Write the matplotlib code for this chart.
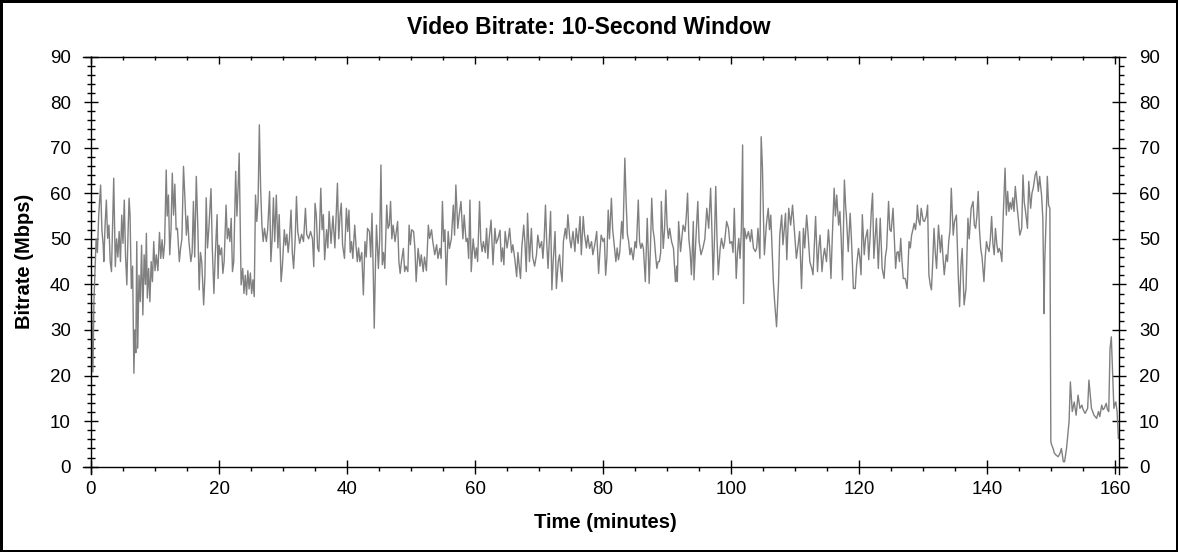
import matplotlib
matplotlib.use('Agg')
import matplotlib.pyplot as plt
from matplotlib.ticker import MultipleLocator

# Lecturas del grafico: tiempo (min) y bitrate (Mbps), por bloques de ~20 min
minutes = [
    # 0 - 20
    0.0, 0.15, 0.3, 0.45, 0.6, 0.8, 1.0, 1.2, 1.5, 1.7,
    1.9, 2.0, 2.2, 2.4, 2.6, 2.8, 3.0, 3.2, 3.4, 3.55,
    3.8, 4.0, 4.2, 4.4, 4.6, 4.8, 5.0, 5.2, 5.4, 5.6,
    5.8, 5.95, 6.1, 6.3, 6.5, 6.7, 6.85, 7.0, 7.15, 7.3,
    7.5, 7.7, 7.9, 8.1, 8.3, 8.5, 8.65, 8.8, 9.0, 9.2,
    9.4, 9.6, 9.8, 10.0, 10.2, 10.45, 10.7, 10.9, 11.1, 11.3,
    11.5, 11.75, 11.9, 12.1, 12.3, 12.5, 12.7, 12.9, 13.1, 13.3,
    13.5, 13.8, 14.0, 14.2, 14.45, 14.7, 14.9, 15.1, 15.3, 15.6,
    15.8, 16.0, 16.2, 16.45, 16.7, 16.9, 17.1, 17.3, 17.6, 17.8,
    18.0, 18.2, 18.4, 18.75, 18.95, 19.2, 19.4, 19.7, 19.85,
    # 20 - 40
    20.0, 20.2, 20.4, 20.6, 20.8, 21.1, 21.3, 21.5, 21.7, 21.9,
    22.1, 22.3, 22.6, 22.8, 23.0, 23.15, 23.3, 23.45, 23.7, 23.9,
    24.1, 24.3, 24.5, 24.7, 24.9, 25.1, 25.3, 25.5, 25.7, 25.9,
    26.1, 26.3, 26.5, 26.7, 26.9, 27.1, 27.4, 27.6, 27.9, 28.1,
    28.3, 28.5, 28.7, 28.95, 29.2, 29.4, 29.7, 29.9, 30.2, 30.4,
    30.6, 30.8, 31.0, 31.25, 31.45, 31.65, 31.9, 32.1, 32.3, 32.6,
    32.9, 33.2, 33.5, 33.7, 34.0, 34.3, 34.6, 34.8, 35.0, 35.2,
    35.4, 35.6, 35.9, 36.1, 36.3, 36.5, 36.8, 37.0, 37.2, 37.5,
    37.8, 38.1, 38.5, 38.7, 38.9, 39.1, 39.3, 39.6, 39.9, 40.1,
    # 40 - 60
    40.3, 40.5, 40.7, 40.9, 41.2, 41.4, 41.6, 41.8, 42.0, 42.3,
    42.55, 42.8, 43.0, 43.2, 43.5, 43.7, 43.9, 44.1, 44.25, 44.45,
    44.6, 44.9, 45.1, 45.3, 45.5, 45.7, 45.9, 46.2, 46.4, 46.6,
    46.8, 47.0, 47.2, 47.5, 47.9, 48.1, 48.3, 48.5, 48.8, 49.0,
    49.2, 49.5, 49.7, 49.9, 50.1, 50.4, 50.6, 50.8, 51.1, 51.4,
    51.6, 51.9, 52.1, 52.4, 52.7, 52.9, 53.2, 53.4, 53.7, 54.0,
    54.2, 54.5, 54.7, 54.9, 55.1, 55.3, 55.5, 55.8, 56.0, 56.3,
    56.6, 56.8, 57.0, 57.3, 57.5, 57.8, 58.1, 58.3, 58.6, 58.8,
    59.0, 59.2, 59.4, 59.7, 60.0, 60.2, 60.4,
    # 60 - 81
    60.7, 60.9, 61.1, 61.3, 61.6, 61.8, 62.0, 62.2, 62.5, 62.8,
    63.1, 63.3, 63.6, 63.9, 64.1, 64.3, 64.5, 64.7, 65.0, 65.2,
    65.4, 65.7, 65.9, 66.2, 66.5, 66.7, 66.9, 67.1, 67.3, 67.6,
    67.8, 68.0, 68.2, 68.5, 68.8, 69.0, 69.3, 69.6, 69.8, 70.1,
    70.4, 70.6, 70.8, 71.0, 71.2, 71.4, 71.6, 71.8, 72.0, 72.2,
    72.5, 72.7, 73.0, 73.2, 73.4, 73.6, 73.8, 74.1, 74.3, 74.5,
    74.8, 75.0, 75.3, 75.6, 75.8, 76.1, 76.4, 76.6, 76.9, 77.1,
    77.4, 77.6, 77.9, 78.2, 78.4, 78.7, 79.0, 79.3, 79.5, 79.7,
    80.0, 80.2, 80.4, 80.6, 80.8,
    # 81 - 101
    81.0, 81.3, 81.5, 81.8, 82.0, 82.2, 82.4, 82.6, 82.9, 83.1,
    83.4, 83.6, 83.8, 84.0, 84.2, 84.4, 84.7, 85.0, 85.2, 85.5,
    85.7, 85.9, 86.1, 86.3, 86.6, 86.9, 87.2, 87.4, 87.6, 87.8,
    88.0, 88.2, 88.4, 88.6, 88.8, 89.0, 89.1, 89.4, 89.6, 89.8,
    90.0, 90.2, 90.4, 90.7, 91.0, 91.3, 91.5, 91.6, 91.8, 92.1,
    92.3, 92.5, 92.8, 93.0, 93.2, 93.4, 93.6, 93.8, 94.0, 94.1,
    94.2, 94.5, 94.8, 95.0, 95.3, 95.6, 95.9, 96.2, 96.5, 96.8,
    97.0, 97.2, 97.4, 97.6, 97.8, 98.0, 98.3, 98.5, 98.8, 99.0,
    99.3, 99.6, 99.8, 100.1, 100.3, 100.5, 100.8,
    # 101 - 122
    101.0, 101.2, 101.4, 101.6, 101.8, 101.95, 102.1, 102.4, 102.7, 103.0,
    103.2, 103.5, 103.8, 104.0, 104.2, 104.5, 104.7, 104.9, 105.05, 105.2,
    105.5, 105.8, 106.0, 106.2, 106.4, 106.6, 106.8, 107.1, 107.4, 107.6,
    107.9, 108.1, 108.3, 108.5, 108.7, 109.0, 109.3, 109.6, 109.9, 110.2,
    110.5, 110.7, 111.0, 111.3, 111.5, 111.8, 112.0, 112.3, 112.6, 112.8,
    113.2, 113.5, 113.7, 113.9, 114.2, 114.4, 114.6, 114.9, 115.2, 115.4,
    115.6, 115.8, 116.1, 116.3, 116.5, 116.8, 117.0, 117.2, 117.4, 117.7,
    117.9, 118.0, 118.3, 118.6, 118.8, 119.1, 119.4, 119.6, 119.9, 120.1,
    120.3, 120.5, 120.8, 121.0, 121.3, 121.5, 121.7,
    # 122 - 142
    121.9, 122.1, 122.3, 122.5, 122.7, 123.0, 123.3, 123.6, 123.9, 124.1,
    124.3, 124.6, 124.8, 125.0, 125.3, 125.5, 125.7, 125.9, 126.1, 126.3,
    126.5, 126.7, 126.9, 127.2, 127.5, 127.8, 128.0, 128.2, 128.4, 128.6,
    128.8, 129.0, 129.1, 129.3, 129.5, 129.7, 130.0, 130.2, 130.5, 130.7,
    130.9, 131.1, 131.3, 131.5, 131.7, 131.9, 132.1, 132.4, 132.7, 132.9,
    133.1, 133.3, 133.6, 133.8, 134.0, 134.2, 134.4, 134.7, 134.9, 135.2,
    135.5, 135.7, 135.9, 136.1, 136.4, 136.7, 137.0, 137.2, 137.5, 137.8,
    138.0, 138.2, 138.4, 138.6, 138.8, 139.0, 139.2, 139.5, 139.7, 139.9,
    140.1, 140.3, 140.5, 140.7, 140.9, 141.1, 141.3, 141.5, 141.7, 141.9,
    # 142 - fin
    142.1, 142.3, 142.5, 142.8, 143.0, 143.2, 143.4, 143.6, 143.8, 144.0,
    144.2, 144.4, 144.7, 144.9, 145.1, 145.4, 145.6, 145.8, 146.0, 146.3,
    146.5, 146.8, 147.0, 147.2, 147.5, 147.7, 148.0, 148.2, 148.5, 148.7,
    148.9, 149.0, 149.3, 149.4, 149.6, 149.8, 149.95, 150.1, 150.3, 150.5,
    150.8, 151.1, 151.4, 151.6, 151.9, 152.1, 152.4, 152.8, 153.0, 153.3,
    153.6, 153.9, 154.2, 154.5, 154.8, 155.0, 155.3, 155.7, 155.9, 156.1,
    156.3, 156.7, 157.1, 157.4, 157.6, 157.9, 158.1, 158.3, 158.6, 158.8,
    159.0, 159.2, 159.4, 159.6, 159.8, 160.0, 160.1, 160.3, 160.5,
]

mbps = [
    # 0 - 20
    40, 30, 20.8, 36, 42, 50, 47, 55, 61.8, 52,
    48.7, 45, 53, 58.5, 50.1, 53, 45, 42.8, 55, 63.3,
    43.9, 50, 46, 51.6, 45, 55.2, 49, 58.5, 46, 39.9,
    52, 58.9, 55.2, 39.1, 44, 20.5, 30, 25, 49.4, 26,
    42, 36.2, 48.6, 33.3, 46.5, 40, 51.2, 37, 43.5, 36.2,
    45, 40.6, 49.4, 43, 46.5, 43, 51.4, 45.7, 49.8, 45.7,
    49, 65.1, 55, 59.6, 46.5, 52, 64.4, 55.2, 62, 52,
    52.3, 45, 48, 50, 65.9, 58, 50.8, 55, 49.4, 45,
    47, 58.2, 46, 63.7, 52, 38.8, 47, 45, 35.5, 42,
    59, 48, 52, 61, 48, 38, 46, 55.3, 41.3,
    # 20 - 40
    48.6, 46.5, 48, 42.4, 45, 57.4, 50, 52.3, 49.4, 54.5,
    42.8, 45, 64.8, 55, 62, 68.8, 55, 39.9, 43.5, 38,
    42, 37.7, 43, 39, 42.5, 38, 41, 37.3, 59.6, 53.8,
    58, 75.0, 61, 53, 49.4, 52.3, 49.4, 52, 60.4, 45,
    50, 59, 49.4, 59.6, 48, 55.3, 40.6, 44, 52, 48.6,
    51, 47, 50, 56.3, 47, 43.5, 50, 59.3, 51.6, 49,
    51, 49.4, 56.7, 51, 50, 51.6, 50, 43.9, 57.8, 55.2,
    48, 47.2, 61.1, 52, 55.3, 45.4, 52, 48, 56, 49,
    55, 48, 62.2, 50, 55, 57.8, 48.7, 45.7, 56.7, 51.6,
    # 40 - 60
    56.3, 47, 49.4, 45.7, 53, 48.6, 45, 48, 45, 47,
    37.7, 49.4, 46, 52.3, 51.6, 46, 55.6, 42, 30.4, 45,
    53, 43.5, 50, 66.2, 44.3, 47, 43.5, 57.4, 52.3, 53,
    58.2, 50, 53, 49.4, 53.8, 45, 42.4, 45, 47.9, 42.8,
    44, 42.8, 53, 48.7, 52, 51.6, 48, 40.6, 47.9, 44,
    46.5, 42.8, 46, 43, 53, 50.1, 52, 49.4, 46.5, 48.7,
    45.7, 47.9, 45.7, 58.2, 49.4, 52, 39.9, 51.6, 47.9, 50,
    57.4, 50.8, 61.8, 52.3, 55, 58.2, 50, 55.2, 49.4, 50.1,
    45.7, 58.5, 42.8, 50, 45.7, 48, 45,
    # 60 - 81
    58.2, 49.4, 47.2, 49.4, 47, 52.3, 45.7, 50, 54.1, 44.3,
    52.3, 49, 50.1, 51.9, 45, 48, 44.3, 51.6, 48, 50,
    52.3, 47, 48.7, 45.7, 41.7, 47, 44, 41.3, 48, 53,
    49, 42.8, 55.6, 45, 52.3, 46, 44, 46.5, 50.8, 48,
    49.4, 45.7, 50, 57.4, 49, 43.5, 50, 56, 38.8, 45,
    51.6, 39.1, 45, 46.5, 43, 40.6, 49.4, 52.3, 50, 55.3,
    50, 48, 51.6, 47.2, 52.3, 49, 54.9, 46.5, 54.9, 51,
    48, 50.8, 47.9, 49.4, 46.5, 48.7, 51.6, 42.4, 47, 50.8,
    49.4, 50.1, 42, 46, 56.3,
    # 81 - 101
    50, 58.9, 52, 47.9, 45, 48, 45.4, 47, 53.8, 50,
    67.7, 58.2, 51, 49.4, 46.5, 48, 45.4, 49.4, 48, 58.5,
    49.4, 47.9, 49, 47.9, 40.6, 54.5, 40.2, 48, 58.9, 52,
    50.1, 46.5, 43.5, 45, 45, 47, 58.2, 47.9, 52, 60.7,
    53, 50.1, 52.3, 49.4, 47.9, 40.6, 44, 40.6, 53.8, 47.2,
    50, 53, 51.6, 55, 60, 50, 47.2, 42.1, 50, 53.8,
    41, 50, 58.2, 49.4, 46.5, 48, 50, 56.7, 52.3, 61.1,
    52, 41, 50, 61.5, 50, 42.1, 48, 50.1, 47.9, 49.4,
    53.8, 52.3, 49, 49.4, 47, 56.7, 41.3,
    # 101 - 122
    47, 50.1, 45.7, 52, 70.6, 35.8, 52.3, 50, 51.6, 49.4,
    52, 47.9, 47.2, 48, 52.3, 45.7, 72.4, 65.5, 55, 46.5,
    53, 56.7, 52, 55.2, 48, 40.6, 36.2, 30.7, 39.9, 50.8,
    55.2, 48.7, 52, 55.6, 45.4, 56.7, 53, 57.4, 51.6, 45.7,
    49, 51.6, 39.1, 52.3, 48, 55.2, 51.6, 45, 43.5, 42.1,
    54.9, 42.8, 48, 50.8, 42.8, 46, 47.9, 45, 52, 48,
    41.3, 50, 61.1, 55, 59.6, 53, 56, 50, 41, 62.9,
    57, 55.2, 47.2, 55.6, 50, 39.1, 39.1, 44, 47.9, 46,
    42.1, 55.3, 46.5, 50, 52, 45.4, 50,
    # 122 - 142
    56, 60, 45.7, 50, 54.5, 43.5, 54.5, 43.5, 41.3, 46,
    47.9, 58.2, 52, 51.6, 56.7, 50, 43.5, 47, 47.2, 45,
    50.1, 45, 41.3, 41.3, 39.1, 49.4, 48, 50.8, 52, 53.4,
    52, 54.5, 57.4, 54, 53, 56.7, 54, 53.8, 55, 57.4,
    42.1, 40, 38.8, 45, 52.3, 47, 43.5, 53, 47, 50.8,
    46, 42.1, 46.5, 45, 49.4, 52, 61.1, 50.8, 53.8, 55.2,
    41.3, 35.1, 44, 47.9, 35.5, 39.1, 54.5, 50, 56.7, 58.2,
    53, 52.3, 55, 60.4, 52, 47.9, 46, 40.6, 46, 49.4,
    48, 47.2, 50, 54.9, 49, 46.5, 52.3, 49, 47, 47.9,
    # 142 - fin
    47, 45, 54.5, 65.5, 55.2, 60.4, 56, 58, 56.5, 59,
    56, 61.5, 56.7, 54, 50.8, 52.3, 64, 58, 56, 52.3,
    62.6, 56.7, 60, 61.1, 64, 64.8, 60.4, 63.7, 59.6, 54.5,
    33.6, 45, 58.2, 63.7, 57.4, 56.7, 5.5, 4.7, 4, 3,
    2.5, 2.2, 3, 4, 1.1, 1.1, 4, 9.9, 18.6, 12.1,
    14.2, 11.3, 15.7, 12.8, 13.5, 12.5, 11.7, 12.8, 19.0, 16,
    12.8, 11.3, 10.6, 12.1, 11, 13.5, 12.5, 12.8, 13.9, 12.5,
    12.1, 25.9, 28.5, 20.8, 12.8, 14, 14.2, 12.1, 6.2,
]

titulo = 'Video Bitrate: 10-Second Window'
etiqueta_x = 'Time (minutes)'
etiqueta_y = 'Bitrate (Mbps)'

assert len(minutes) == len(mbps), (len(minutes), len(mbps))

plt.rcParams['font.family'] = ['Liberation Sans', 'DejaVu Sans']

W, H = 1178, 552
fig = plt.figure(figsize=(W / 100, H / 100), dpi=100)
fig.patch.set_facecolor('white')
fig.patch.set_edgecolor('black')
fig.patch.set_linewidth(2.5)

ax = fig.add_axes([91 / W, 1 - 466.7 / H, (1119 - 91) / W, (466.7 - 56.5) / H])
ax.plot(minutes, mbps, color='#808080', lw=1.0)

ax.set_xlim(0, 160.6)
ax.set_ylim(0, 90)
ax.xaxis.set_major_locator(MultipleLocator(20))
ax.xaxis.set_minor_locator(MultipleLocator(5))
ax.yaxis.set_major_locator(MultipleLocator(10))
ax.yaxis.set_minor_locator(MultipleLocator(2))

for lado in ['left', 'right', 'top', 'bottom']:
    ax.spines[lado].set_linewidth(1.0)
ax.spines['left'].set_bounds(-1.6, 90)
ax.spines['right'].set_bounds(-1.6, 90)
ax.spines['bottom'].set_bounds(-1.3, 161.8)
ax.spines['top'].set_bounds(-1.3, 160.6)

# ejes principales: izquierda y abajo
ax.tick_params(axis='y', which='major', direction='inout', length=10, width=1,
               left=True, right=False, labelsize=13.5, pad=9.4)
ax.tick_params(axis='y', which='minor', direction='inout', length=5.8, width=1,
               left=True, right=False)
ax.tick_params(axis='x', which='major', direction='inout', length=9.4, width=1,
               bottom=True, top=False, labelsize=13.5, pad=5.6)
ax.tick_params(axis='x', which='minor', direction='out', length=2.9, width=1,
               bottom=True, top=False)

# arriba: solo marcas hacia adentro
sec_x = ax.secondary_xaxis('top')
sec_x.xaxis.set_major_locator(MultipleLocator(20))
sec_x.xaxis.set_minor_locator(MultipleLocator(5))
sec_x.tick_params(which='major', direction='in', length=5.8, width=1, labeltop=False)
sec_x.tick_params(which='minor', direction='in', length=2.9, width=1)
sec_x.spines['top'].set_visible(False)

# derecha: etiquetas repetidas
sec_y = ax.secondary_yaxis('right')
sec_y.yaxis.set_major_locator(MultipleLocator(10))
sec_y.yaxis.set_minor_locator(MultipleLocator(2))
sec_y.tick_params(which='major', direction='inout', length=9.4, width=1,
                  labelsize=13.5, pad=9.7)
sec_y.tick_params(which='minor', direction='out', length=3.6, width=1)
sec_y.spines['right'].set_visible(False)

fig.text(0.5, 1 - 27 / H, titulo, ha='center', va='center',
         fontsize=16.5, fontweight='bold')
fig.text(605 / W, 1 - 523 / H, etiqueta_x, ha='center', va='center',
         fontsize=14.5, fontweight='bold')
fig.text(25 / W, 1 - 261 / H, etiqueta_y, ha='center', va='center',
         rotation=90, fontsize=14.5, fontweight='bold')

fig.savefig('out.png', dpi=100)
